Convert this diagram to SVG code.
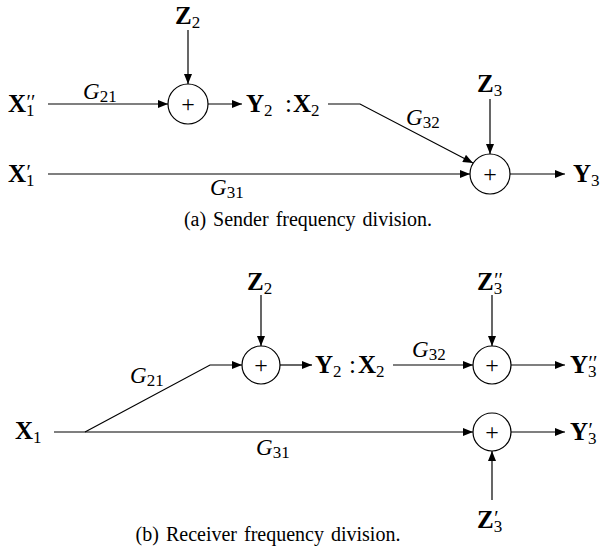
<svg xmlns="http://www.w3.org/2000/svg" width="603" height="554" viewBox="0 0 603 554">
<style>
.v{font-family:"Liberation Serif","DejaVu Serif",serif;font-weight:bold;font-size:25px;fill:#000}
.g{font-family:"Liberation Serif","DejaVu Serif",serif;font-style:italic;font-size:23px;fill:#000}
.s{font-size:17px;font-weight:normal;font-style:normal}
.pr{font-size:20px;font-weight:normal;font-style:normal}
.co{font-weight:normal}
.p{font-family:"Liberation Serif","DejaVu Serif",serif;font-size:24px;fill:#000}
.cap{font-family:"Liberation Serif","Times New Roman",serif;font-size:20px;word-spacing:2px;fill:#000}
.sum{fill:#fff;stroke:#000;stroke-width:1.2}
.c{fill:none;stroke:#000;stroke-width:1.2}
</style>
<defs>
<marker id="ah" viewBox="0 0 10 8" refX="10" refY="4" markerWidth="11" markerHeight="8" markerUnits="userSpaceOnUse" orient="auto">
<path d="M0,0 L10,4 L0,8 Z" fill="#000"/>
</marker>
</defs>
<rect width="603" height="554" fill="#fff"/>

<g id="connectors">
<path class="c" marker-end="url(#ah)" d="M188,30 L188,84"/>
<path class="c" marker-end="url(#ah)" d="M48,104 L168,104"/>
<path class="c" marker-end="url(#ah)" d="M208,104 L242,104"/>
<path class="c" marker-end="url(#ah)" d="M328,104 L360,104 L473,163"/>
<path class="c" marker-end="url(#ah)" d="M490,99 L490,154"/>
<path class="c" marker-end="url(#ah)" d="M48,174 L470,174"/>
<path class="c" marker-end="url(#ah)" d="M510,174 L565,174"/>

<path class="c" marker-end="url(#ah)" d="M261,295 L261,346"/>
<path class="c" marker-end="url(#ah)" d="M54,432 L473,432"/>
<path class="c" marker-end="url(#ah)" d="M85,432 L210,365 L242,365"/>
<path class="c" marker-end="url(#ah)" d="M280,365 L312,365"/>
<path class="c" marker-end="url(#ah)" d="M393,365 L473,365"/>
<path class="c" marker-end="url(#ah)" d="M492,295 L492,346"/>
<path class="c" marker-end="url(#ah)" d="M511,365 L565,365"/>
<path class="c" marker-end="url(#ah)" d="M511,432 L565,432"/>
<path class="c" marker-end="url(#ah)" d="M492,500 L492,451"/>
</g>

<g id="labels-gains">
<text class="g" x="83" y="99">G<tspan class="s" dy="3">21</tspan></text>
<text class="g" x="406" y="125">G<tspan class="s" dy="3">32</tspan></text>
<text class="g" x="210" y="195">G<tspan class="s" dy="3">31</tspan></text>
<text class="g" x="130" y="383">G<tspan class="s" dy="3">21</tspan></text>
<text class="g" x="412" y="357">G<tspan class="s" dy="3">32</tspan></text>
<text class="g" x="256" y="455">G<tspan class="s" dy="3">31</tspan></text>
</g>

<g id="a-Z2"><text class="v" x="175" y="24">Z<tspan class="s" dy="4">2</tspan></text></g>
<g id="a-X1pp"><text class="v" x="8" y="112">X<tspan class="s" dy="4">1</tspan><tspan class="pr" dx="-8" dy="-7">′′</tspan></text></g>
<g id="a-sum1"><circle class="sum" cx="188" cy="104" r="20"/><text class="p" x="188" y="112" text-anchor="middle">+</text></g>
<g id="a-Y2X2"><text class="v" x="246" y="112">Y<tspan class="s" dy="4">2</tspan><tspan class="co" x="285" dy="-4">:</tspan><tspan x="293">X</tspan><tspan class="s" dy="4">2</tspan></text></g>
<g id="a-Z3"><text class="v" x="477" y="92">Z<tspan class="s" dy="4">3</tspan></text></g>
<g id="a-X1p"><text class="v" x="8" y="182">X<tspan class="s" dy="4">1</tspan><tspan class="pr" dx="-8" dy="-7">′</tspan></text></g>
<g id="a-sum2"><circle class="sum" cx="490" cy="174" r="20"/><text class="p" x="490" y="182" text-anchor="middle">+</text></g>
<g id="a-Y3"><text class="v" x="573" y="182">Y<tspan class="s" dy="4">3</tspan></text></g>
<text class="cap" x="308" y="226" text-anchor="middle">(a) Sender frequency division.</text>

<g id="b-Z2"><text class="v" x="247" y="290">Z<tspan class="s" dy="4">2</tspan></text></g>
<g id="b-X1"><text class="v" x="15" y="439">X<tspan class="s" dy="4">1</tspan></text></g>
<g id="b-sum1"><circle class="sum" cx="261" cy="365" r="19"/><text class="p" x="261" y="373" text-anchor="middle">+</text></g>
<g id="b-Y2X2"><text class="v" x="315" y="373">Y<tspan class="s" dy="4">2</tspan><tspan class="co" x="349" dy="-4">:</tspan><tspan x="358">X</tspan><tspan class="s" dy="4">2</tspan></text></g>
<g id="b-Z3pp"><text class="v" x="477" y="290">Z<tspan class="s" dy="4">3</tspan><tspan class="pr" dx="-8" dy="-7">′′</tspan></text></g>
<g id="b-sum2"><circle class="sum" cx="492" cy="365" r="19"/><text class="p" x="492" y="373" text-anchor="middle">+</text></g>
<g id="b-Y3pp"><text class="v" x="570" y="373">Y<tspan class="s" dy="4">3</tspan><tspan class="pr" dx="-8" dy="-7">′′</tspan></text></g>
<g id="b-sum3"><circle class="sum" cx="492" cy="432" r="19"/><text class="p" x="492" y="440" text-anchor="middle">+</text></g>
<g id="b-Y3p"><text class="v" x="570" y="440">Y<tspan class="s" dy="4">3</tspan><tspan class="pr" dx="-8" dy="-7">′</tspan></text></g>
<g id="b-Z3p"><text class="v" x="477" y="528">Z<tspan class="s" dy="4">3</tspan><tspan class="pr" dx="-8" dy="-7">′</tspan></text></g>
<text class="cap" x="268" y="541" text-anchor="middle">(b) Receiver frequency division.</text>
</svg>
